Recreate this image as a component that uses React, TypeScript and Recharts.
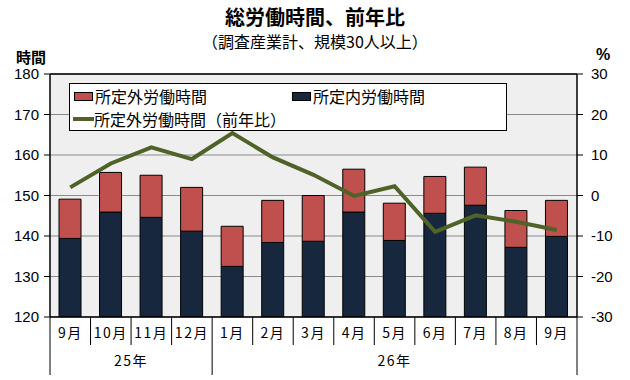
import React from 'react';
import { ComposedChart, Bar, Line, XAxis, YAxis, CartesianGrid, ReferenceLine } from 'recharts';

const months = ['9月', '10月', '11月', '12月', '1月', '2月', '3月', '4月', '5月', '6月', '7月', '8月', '9月'];
const scheduledHours = [139.4, 145.9, 144.6, 141.2, 132.5, 138.4, 138.7, 145.9, 138.9, 145.6, 147.6, 137.2, 139.9];
const overtimeHours = [9.7, 9.8, 10.4, 10.8, 9.9, 10.4, 11.3, 10.6, 9.2, 9.1, 9.4, 9.1, 8.9];
const overtimeYoY = [2.0, 7.9, 11.9, 9.0, 15.4, 9.4, 5.1, -0.1, 2.3, -9.0, -4.9, -6.5, -8.5];
const leftTicks = [120, 130, 140, 150, 160, 170, 180];
const rightTicks = [-30, -20, -10, 0, 10, 20, 30];
const years = [
  { label: '25年', start: 0, end: 3 },
  { label: '26年', start: 4, end: 12 },
];

const data = months.map((m, i) => ({
  m,
  inner: scheduledHours[i],
  outer: overtimeHours[i],
  yoy: overtimeYoY[i],
}));

const JP = '"Noto Sans CJK JP", "Noto Sans", sans-serif';
const NUM = '"Liberation Sans", Arial, sans-serif';
const RED = '#c0504d';
const NAVY = '#17273d';
const OLIVE = '#4f6228';
const PLOT_W = 527;

const MonthTick = (props: any) => {
  const { x, y, payload } = props;
  const i = payload.index ?? props.index;
  const bw = PLOT_W / months.length;
  const isYearStart = years.some((yr) => yr.start === i);
  const isLast = i === months.length - 1;
  const els: any[] = [];
  els.push(
    <line key="l" x1={x - bw / 2} x2={x - bw / 2} y1={y} y2={y + (isYearStart ? 58 : 28)} stroke="#000" strokeWidth={1} />
  );
  if (isLast) {
    els.push(<line key="r" x1={x + bw / 2} x2={x + bw / 2} y1={y} y2={y + 58} stroke="#000" strokeWidth={1} />);
  }
  els.push(
    <text key="t" x={x} y={y + 21} textAnchor="middle" fontSize={14} fontFamily={JP} fill="#000" letterSpacing={1.5}>
      {payload.value}
    </text>
  );
  years.forEach((yr) => {
    const mid = (yr.start + yr.end) / 2;
    if (Math.floor(mid) === i) {
      const off = (mid - i) * bw;
      els.push(
        <text key={yr.label} x={x + off} y={y + 49} textAnchor="middle" fontSize={14} fontFamily={JP} fill="#000" letterSpacing={1.5}>
          {yr.label}
        </text>
      );
    }
  });
  return <g>{els}</g>;
};

const LegendBox = () => (
  <div
    style={{
      position: 'absolute',
      left: 69,
      top: 83,
      width: 436,
      height: 46,
      border: '1px solid #000',
      background: '#fff',
      fontFamily: JP,
      fontSize: 16,
      color: '#000',
      boxSizing: 'content-box',
    }}
  >
    <div style={{ position: 'absolute', left: 4, top: 1, display: 'flex', alignItems: 'center', height: 22 }}>
      <span style={{ display: 'inline-block', width: 17, height: 7, background: RED, border: '1px solid #000', marginRight: 2 }} />
      <span>所定外労働時間</span>
    </div>
    <div style={{ position: 'absolute', left: 222, top: 1, display: 'flex', alignItems: 'center', height: 22 }}>
      <span style={{ display: 'inline-block', width: 17, height: 7, background: NAVY, border: '1px solid #000', marginRight: 2 }} />
      <span>所定内労働時間</span>
    </div>
    <div style={{ position: 'absolute', left: 3, top: 24, display: 'flex', alignItems: 'center', height: 22 }}>
      <span style={{ display: 'inline-block', width: 21, height: 4, background: OLIVE, marginRight: 0 }} />
      <span>所定外労働時間（前年比）</span>
    </div>
  </div>
);

export default function App() {
  return (
    <div style={{ position: 'absolute', left: 0, top: 0, width: 630, height: 380, background: '#fff' }}>
      <ComposedChart
        width={630}
        height={380}
        data={data}
        margin={{ top: 74, right: 8, bottom: 0, left: 5 }}
        barSize={22}
      >
        <CartesianGrid vertical={false} stroke="#8a8a8a" fill="#efefef" fillOpacity={1} yAxisId="left" />
        <XAxis
          dataKey="m"
          height={63}
          interval={0}
          tickLine={false}
          tickSize={0}
          tickMargin={0}
          axisLine={{ stroke: '#000', strokeWidth: 1.5 }}
          tick={<MonthTick />}
        />
        <YAxis
          yAxisId="left"
          width={45}
          domain={[120, 180]}
          ticks={leftTicks}
          allowDataOverflow
          tickSize={6}
          tickMargin={5}
          axisLine={{ stroke: '#000', strokeWidth: 1.5 }}
          tickLine={{ stroke: '#000' }}
          tick={{ fill: '#000', fontSize: 15, fontFamily: NUM }}
        />
        <YAxis
          yAxisId="right"
          orientation="right"
          width={45}
          domain={[-30, 30]}
          ticks={rightTicks}
          allowDataOverflow
          tickSize={6}
          tickMargin={8}
          axisLine={{ stroke: '#000', strokeWidth: 1.5 }}
          tickLine={{ stroke: '#000' }}
          tick={{ fill: '#000', fontSize: 15, fontFamily: NUM }}
        />
        <ReferenceLine yAxisId="left" y={180} stroke="#000" strokeWidth={1.5} />
        <Bar yAxisId="left" dataKey="inner" stackId="h" fill={NAVY} stroke="#000" strokeWidth={1} isAnimationActive={false} />
        <Bar yAxisId="left" dataKey="outer" stackId="h" fill={RED} stroke="#000" strokeWidth={1} isAnimationActive={false} />
        <Line yAxisId="right" dataKey="yoy" stroke={OLIVE} strokeWidth={4} dot={false} isAnimationActive={false} />
      </ComposedChart>
      <LegendBox />
      <div style={{ position: 'absolute', left: 0, top: 2, width: 630, textAlign: 'center', fontFamily: JP, fontSize: 20, fontWeight: 'bold', color: '#000' }}>
        総労働時間、前年比
      </div>
      <div style={{ position: 'absolute', left: 0, top: 29, width: 630, textAlign: 'center', fontFamily: JP, fontSize: 16, color: '#000' }}>
        （調査産業計、規模30人以上）
      </div>
      <div style={{ position: 'absolute', left: 16, top: 46, fontFamily: JP, fontSize: 15, fontWeight: 'bold', color: '#000' }}>時間</div>
      <div style={{ position: 'absolute', left: 596, top: 46, fontFamily: NUM, fontSize: 16, fontWeight: 'bold', color: '#000' }}>%</div>
    </div>
  );
}
